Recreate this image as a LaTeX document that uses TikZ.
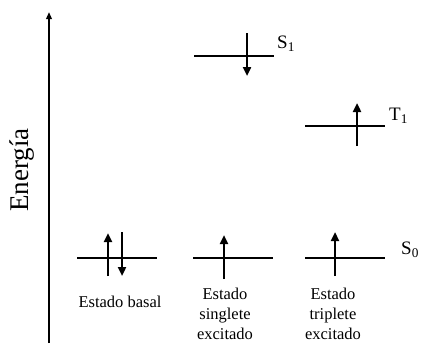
\documentclass[tikz,border=0pt]{standalone}
\usepackage{fontspec}
\setmainfont{Liberation Serif}
\usetikzlibrary{arrows.meta, positioning}

\begin{document}
\begin{tikzpicture}[x=1pt, y=-1pt, >={Triangle[length=9pt,width=8pt]},
        nivel/.style={line width=1.2pt},
        espin/.style={->, line width=2.8pt},
        etiq/.style={font=\fontsize{16.5}{20}\selectfont, align=center},
        estado/.style={font=\fontsize{19}{22}\selectfont, anchor=west, inner sep=0pt}]
        \useasboundingbox (0,0) rectangle (438,343);
        % eje de energia
        \coordinate (ejeb) at (49,343);
        \coordinate (ejet) at (49,12);
        \draw[line width=1.8pt, -{Triangle[length=7pt,width=5.5pt]}] (ejeb) -- (ejet);
        \node[rotate=90, font=\fontsize{27}{30}\selectfont] (energia) at (22,170) {Energía};
        % niveles
        \foreach \n/\x/\y in {b/117/258, s/233/258, t/345/258, s1/234/56, t1/345/126}
            {\coordinate (\n) at (\x,\y);
             \draw[nivel] ([xshift=-40]\n) -- ([xshift=40]\n);}
        % espines
        \foreach \n/\x/\ya/\yb in {bu/108/276/233, bd/122/232/276, su/224/279/235,
                tu/335/276/232, s1d/247/33/76, t1u/357/146/103}
            {\coordinate (\n a) at (\x,\ya);
             \coordinate (\n b) at (\x,\yb);
             \draw[espin] (\n a) -- (\n b);}
        \node[estado] (S0) at (401,250) {S\textsubscript{0}};
        \node[estado] (S1) at (277,44) {S\textsubscript{1}};
        \node[estado] (T1) at (389,116) {T\textsubscript{1}};
        \node[etiq] (basal) at (120,302) {Estado basal};
        \node[etiq] (sing) at (225,314) {Estado\\singlete\\excitado};
        \node[etiq] (trip) at (333,314) {Estado\\triplete\\excitado};
    \end{tikzpicture}
\end{document}
